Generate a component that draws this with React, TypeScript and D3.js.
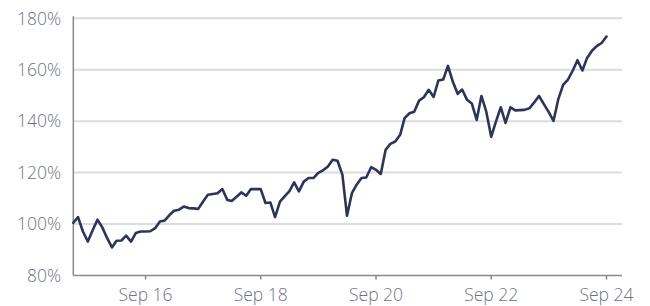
import React from "react";
import * as d3 from "d3";

const startMonth = "2015-06";
const values: number[] = [
  100.5, 102.7, 97.1, 93.2, 97.5, 101.7, 98.8, 94.6, 90.9, 93.5,
  93.6, 95.5, 93.2, 96.5, 97.1, 97.1, 97.2, 98.4, 101.0, 101.4,
  103.6, 105.2, 105.6, 106.8, 106.2, 106.1, 105.9, 108.8, 111.4, 111.7,
  112.0, 113.6, 109.4, 109.0, 110.6, 112.3, 111.0, 113.6, 113.6, 113.6,
  108.2, 108.4, 102.7, 108.7, 110.9, 112.7, 116.2, 112.7, 116.5, 117.9,
  117.9, 119.9, 120.9, 122.4, 125.0, 124.6, 119.1, 103.2, 112.0, 115.3,
  117.9, 118.1, 122.1, 121.1, 119.5, 128.9, 131.2, 132.1, 134.7, 141.2,
  143.1, 143.7, 148.0, 149.3, 152.2, 149.4, 155.8, 156.2, 161.5, 155.3,
  150.6, 152.3, 148.3, 146.9, 140.5, 149.8, 143.7, 133.9, 139.8, 145.4,
  139.3, 145.4, 144.2, 144.3, 144.4, 145.0, 147.3, 149.8, 146.6, 143.5,
  140.1, 148.7, 154.1, 156.2, 159.8, 163.7, 159.7, 164.6, 167.4, 169.2,
  170.4, 172.9,
];
const yTicks = [80, 100, 120, 140, 160, 180];
const xTickDates = ["2016-09", "2018-09", "2020-09", "2022-09", "2024-09"];

const parseMonth = d3.timeParse("%Y-%m");
const start = parseMonth(startMonth) as Date;
const data = values.map((v, i) => ({ date: d3.timeMonth.offset(start, i), value: v }));

export default function App() {
  const W = 650, H = 306;
  const left = 73.3, right = 622, plotRightData = 606.5;
  const top = 18.3, bottom = 275.5;

  const x = d3
    .scaleTime()
    .domain([data[0].date, data[data.length - 1].date])
    .range([left, plotRightData]);
  const y = d3.scaleLinear().domain([80, 180]).range([bottom, top]);

  const line = d3
    .line<{ date: Date; value: number }>()
    .x((d) => x(d.date))
    .y((d) => y(d.value))
    .curve(d3.curveLinear);

  const fmt = d3.timeFormat("%b %y");
  const font = "'Open Sans', 'DejaVu Sans', sans-serif";
  const labelColor = "#6e7287";

  return (
    <svg
      width={W}
      height={H}
      style={{ position: "absolute", left: 0, top: 0, background: "#fff" }}
    >
      {yTicks
        .filter((t) => t !== 80)
        .map((t) => (
          <line
            key={"g" + t}
            x1={left}
            x2={right}
            y1={y(t)}
            y2={y(t)}
            stroke="#dcdcdc"
            strokeWidth={2}
          />
        ))}
      {yTicks.map((t) => (
        <text
          key={"yl" + t}
          x={61}
          y={y(t)}
          dy="0.36em"
          textAnchor="end"
          fontFamily={font}
          fontSize={17.5}
          fontWeight={300}
          fill={labelColor}
        >
          {t}%
        </text>
      ))}
      <line x1={left} x2={left} y1={top - 2} y2={bottom} stroke="#8a8a8a" strokeWidth={1.5} />
      <line x1={left} x2={right} y1={bottom} y2={bottom} stroke="#8a8a8a" strokeWidth={1.5} />
      {xTickDates.map((s) => {
        const d = parseMonth(s) as Date;
        const xx = x(d);
        return (
          <g key={s}>
            <line x1={xx} x2={xx} y1={bottom} y2={bottom + 4} stroke="#8a8a8a" strokeWidth={1.5} />
            <text
              x={xx}
              y={300.5}
              textAnchor="middle"
              fontFamily={font}
              fontSize={17.5}
              fontWeight={300}
              fill={labelColor}
            >
              {fmt(d)}
            </text>
          </g>
        );
      })}
      <path
        d={line(data) || ""}
        fill="none"
        stroke="#2e3459"
        strokeWidth={2.6}
        strokeLinejoin="round"
        strokeLinecap="round"
      />
    </svg>
  );
}
